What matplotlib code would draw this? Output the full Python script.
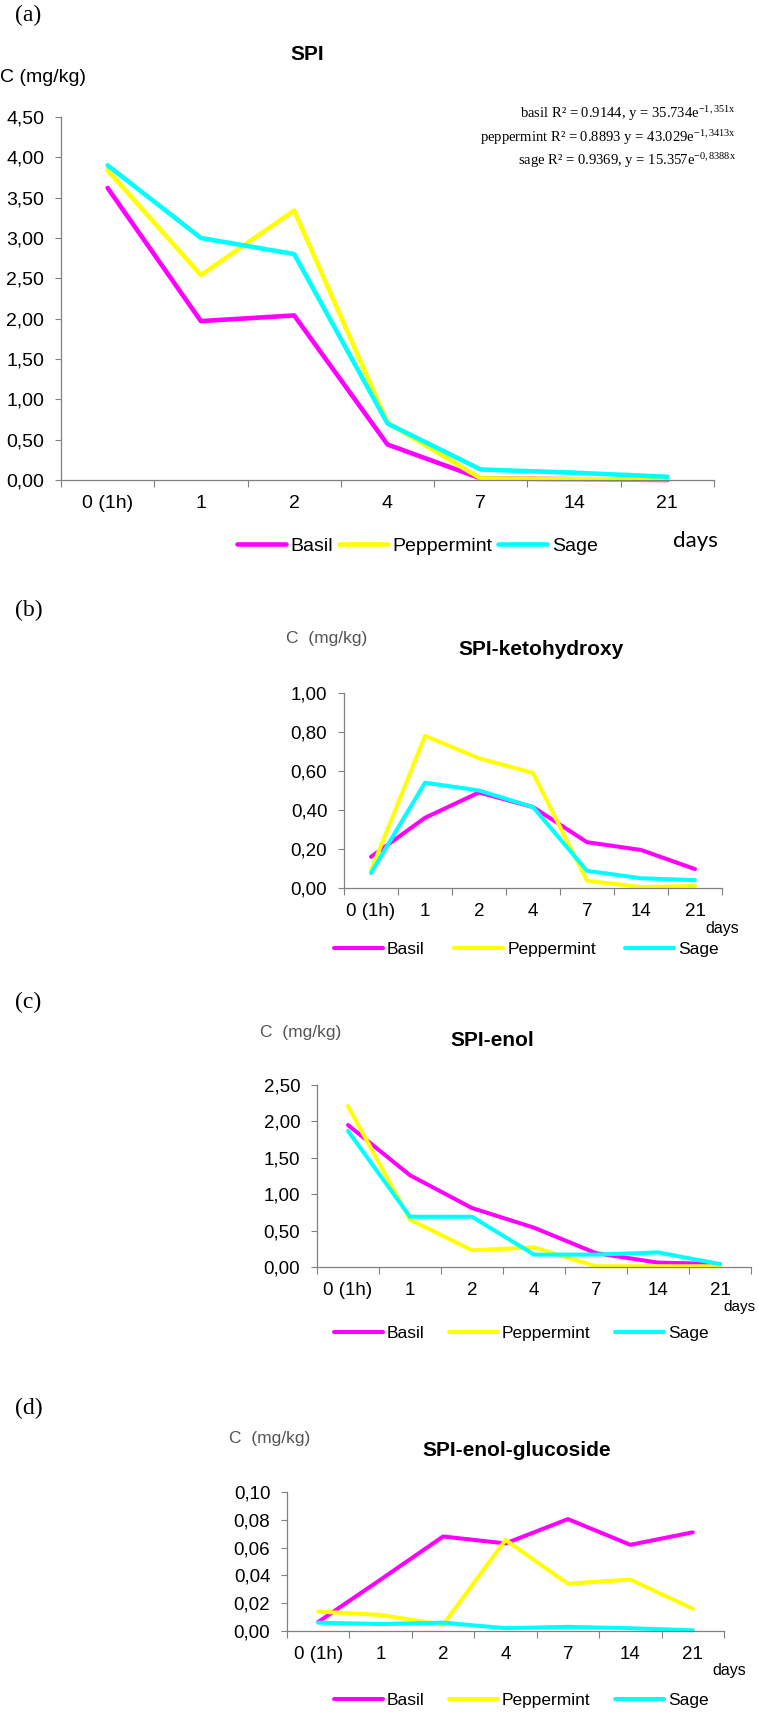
import numpy as np
import matplotlib
matplotlib.use("Agg")
import matplotlib.pyplot as plt

plt.rcParams["font.family"] = ["Liberation Sans", "DejaVu Sans"]
plt.rcParams["mathtext.fontset"] = "custom"
plt.rcParams["mathtext.rm"] = "Liberation Serif"
plt.rcParams["mathtext.it"] = "Liberation Serif:italic"

# ---- data
days = ["0 (1h)", "1", "2", "4", "7", "14", "21"]
series = ["Basil", "Peppermint", "Sage"]
colors = ["#ff00ff", "#ffff00", "#00ffff"]

spi_basil = [3.62, 1.97, 2.04, 0.44, 0.02, 0.01, 0.00]
spi_pepper = [3.84, 2.54, 3.34, 0.71, 0.02, 0.01, 0.01]
spi_sage = [3.90, 3.00, 2.80, 0.70, 0.13, 0.09, 0.04]

keto_basil = [0.16, 0.36, 0.49, 0.415, 0.235, 0.195, 0.097]
keto_pepper = [0.09, 0.78, 0.665, 0.59, 0.037, 0.005, 0.01]
keto_sage = [0.077, 0.54, 0.50, 0.415, 0.088, 0.05, 0.04]

enol_basil = [1.95, 1.26, 0.81, 0.54, 0.19, 0.06, 0.04]
enol_pepper = [2.21, 0.65, 0.23, 0.27, 0.01, 0.01, 0.01]
enol_sage = [1.87, 0.69, 0.69, 0.17, 0.17, 0.20, 0.04]

gluc_basil = [0.0065, 0.037, 0.068, 0.063, 0.0805, 0.062, 0.071]
gluc_pepper = [0.014, 0.0115, 0.0045, 0.0655, 0.034, 0.037, 0.016]
gluc_sage = [0.006, 0.005, 0.006, 0.002, 0.003, 0.002, 0.0005]

yticks_a = [0, 0.5, 1.0, 1.5, 2.0, 2.5, 3.0, 3.5, 4.0, 4.5]
yticks_b = [0, 0.2, 0.4, 0.6, 0.8, 1.0]
yticks_c = [0, 0.5, 1.0, 1.5, 2.0, 2.5]
yticks_d = [0, 0.02, 0.04, 0.06, 0.08, 0.10]

fit_lines = [
    r"basil R² = 0.9144, y = 35.734e$^{\mathrm{-1,351x}}$",
    r"peppermint R² = 0.8893 y = 43.029e$^{\mathrm{-1,3413x}}$",
    r"sage R² = 0.9369, y = 15.357e$^{\mathrm{-0,8388x}}$",
]

W, H = 759, 1713
fig = plt.figure(figsize=(W / 100, H / 100), dpi=100)


def fx(px):
    return px / W


def fy(py):
    return 1 - py / H


def panel(box, data, yticks, lw, tsize):
    left, top, right, bottom = box
    ax = fig.add_axes([fx(left), fy(bottom), (right - left) / W, (bottom - top) / H])
    pos = np.arange(len(days)) + 0.5
    lines = []
    for vals, col, name in zip(data, colors, series):
        ln, = ax.plot(pos, vals, color=col, lw=lw, label=name, clip_on=False,
                      solid_capstyle="round", solid_joinstyle="round")
        lines.append(ln)
    ax.set_xlim(0, len(days))
    ax.set_ylim(yticks[0], yticks[-1])
    ax.set_xticks(np.arange(len(days) + 1))
    ax.set_xticklabels([])
    ax.set_xticks(pos, minor=True)
    ax.set_xticklabels(days, minor=True, fontsize=tsize)
    ax.set_yticks(yticks)
    ax.set_yticklabels([f"{v:.2f}".replace(".", ",") for v in yticks], fontsize=tsize)
    ax.tick_params(axis="x", which="major", length=5, width=0.8, color="#808080", direction="out")
    ax.tick_params(axis="x", which="minor", length=0, pad=11)
    ax.tick_params(axis="y", length=4, width=0.8, color="#808080", pad=8)
    for s in ("top", "right"):
        ax.spines[s].set_visible(False)
    for s in ("left", "bottom"):
        ax.spines[s].set_color("#808080")
        ax.spines[s].set_linewidth(0.9)
    return ax, lines


def legend(ax, lines, x, y, size, hl, cs):
    ax.legend(lines, series, ncol=3, loc="center left",
              bbox_to_anchor=(fx(x), fy(y)), bbox_transform=fig.transFigure,
              frameon=False, borderpad=0, borderaxespad=0, fontsize=size,
              handlelength=hl, handletextpad=0.25, columnspacing=cs)


def label(txt, x, y):
    fig.text(fx(x), fy(y), txt, family="Liberation Serif", fontsize=17, va="center")


# ---- (a) SPI
ax, lines = panel((61, 117, 714, 480), [spi_basil, spi_pepper, spi_sage], yticks_a, 3.3, 14)
label("(a)", 15, 15)
fig.text(fx(307), fy(54), "SPI", fontsize=15, weight="bold", ha="center", va="center")
fig.text(fx(0), fy(77), "C (mg/kg)", fontsize=14, va="center")
for i, t in enumerate(fit_lines):
    fig.text(fx(736), fy(114 + 23.5 * i), t, family="Liberation Serif", fontsize=10.5,
             ha="right", va="center")
legend(ax, lines, 237, 546, 14, 2.5, 0.3)
fig.text(fx(673), fy(541), "days", family="Lato", fontsize=16, va="center")

# ---- (b) SPI-ketohydroxy
ax, lines = panel((344, 693, 722, 888), [keto_basil, keto_pepper, keto_sage], yticks_b, 2.9, 13.5)
label("(b)", 15, 610)
fig.text(fx(541), fy(650), "SPI-ketohydroxy", fontsize=15, weight="bold", ha="center", va="center")
fig.text(fx(286), fy(639), "C  (mg/kg)", fontsize=12.5, color="#555555", va="center")
legend(ax, lines, 334, 949, 12.5, 2.8, 1.7)
fig.text(fx(705), fy(928), "days", fontsize=11.5, va="center")

# ---- (c) SPI-enol
ax, lines = panel((317, 1085, 751, 1267), [enol_basil, enol_pepper, enol_sage], yticks_c, 2.9, 13.5)
label("(c)", 15, 1002)
fig.text(fx(492), fy(1040), "SPI-enol", fontsize=15, weight="bold", ha="center", va="center")
fig.text(fx(260), fy(1032), "C  (mg/kg)", fontsize=12.5, color="#555555", va="center")
legend(ax, lines, 334, 1333, 12.5, 2.8, 1.4)
fig.text(fx(756), fy(1307), "days", fontsize=11, ha="right", va="center")

# ---- (d) SPI-enol-glucoside
ax, lines = panel((287, 1492, 724, 1631), [gluc_basil, gluc_pepper, gluc_sage], yticks_d, 2.9, 13.5)
label("(d)", 15, 1408)
fig.text(fx(517), fy(1450), "SPI-enol-glucoside", fontsize=15, weight="bold", ha="center", va="center")
fig.text(fx(229), fy(1439), "C  (mg/kg)", fontsize=12.5, color="#555555", va="center")
legend(ax, lines, 334, 1700, 12.5, 2.8, 1.4)
fig.text(fx(712), fy(1671), "days", fontsize=11.5, va="center")

fig.savefig("out.png", dpi=100)
